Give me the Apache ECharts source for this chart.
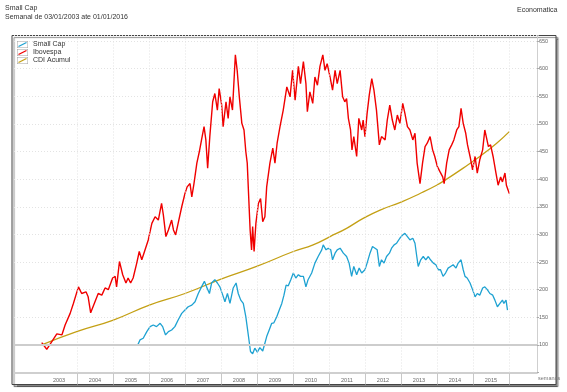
<!DOCTYPE html>
<html><head><meta charset="utf-8">
<script src="https://cdn.jsdelivr.net/npm/echarts@6/dist/echarts.min.js"></script>
<style>html,body{margin:0;padding:0;background:#fff}#c{width:567px;height:392px}</style>
</head><body><div id="c"></div>
<script>
// Ibovespa (red), weekly series sampled, x = decimal year
const ibovX = [2003.02,2003.16,2003.30,2003.44,2003.58,2003.67,2003.81,2003.90,2004.04,2004.13,2004.25,2004.31,2004.38,2004.50,2004.59,2004.69,2004.78,2004.87,2004.99,2005.06,2005.10,2005.18,2005.27,2005.36,2005.42,2005.49,2005.56,2005.66,2005.73,2005.80,2005.86,2005.98,2006.08,2006.17,2006.26,2006.35,2006.40,2006.47,2006.54,2006.63,2006.68,2006.74,2006.81,2006.91,2007.00,2007.06,2007.14,2007.19,2007.25,2007.33,2007.40,2007.46,2007.53,2007.58,2007.63,2007.69,2007.77,2007.83,2007.90,2007.95,2008.02,2008.06,2008.14,2008.20,2008.25,2008.32,2008.40,2008.45,2008.51,2008.58,2008.64,2008.69,2008.73,2008.77,2008.81,2008.85,2008.88,2008.92,2008.97,2009.04,2009.10,2009.16,2009.22,2009.27,2009.36,2009.44,2009.50,2009.56,2009.64,2009.73,2009.83,2009.92,2009.99,2010.06,2010.15,2010.21,2010.29,2010.36,2010.40,2010.47,2010.55,2010.61,2010.68,2010.75,2010.83,2010.89,2010.95,2011.03,2011.10,2011.17,2011.23,2011.31,2011.38,2011.44,2011.49,2011.54,2011.60,2011.64,2011.69,2011.77,2011.83,2011.91,2011.95,2012.00,2012.06,2012.12,2012.19,2012.25,2012.32,2012.40,2012.46,2012.56,2012.62,2012.69,2012.76,2012.83,2012.90,2012.97,2013.05,2013.11,2013.18,2013.25,2013.33,2013.39,2013.45,2013.53,2013.60,2013.67,2013.73,2013.81,2013.88,2013.94,2014.01,2014.08,2014.16,2014.20,2014.27,2014.34,2014.41,2014.47,2014.55,2014.61,2014.67,2014.73,2014.80,2014.85,2014.92,2014.99,2015.06,2015.12,2015.19,2015.27,2015.33,2015.38,2015.43,2015.49,2015.56,2015.64,2015.70,2015.77,2015.82,2015.89,2015.93,2016.01];
const ibovY = [104,92,106,120,118,136,157,175,205,193,196,187,158,178,193,190,203,200,221,224,205,251,227,212,221,212,221,248,269,254,266,290,320,332,326,356,335,296,308,326,308,299,320,350,374,386,392,368,392,429,450,471,495,471,420,477,540,555,525,564,534,495,540,510,549,525,625,597,549,501,489,450,429,368,308,272,314,269,320,356,365,323,332,386,429,456,429,465,495,525,567,549,597,543,604,573,613,573,522,558,537,585,570,604,625,597,609,585,561,597,573,597,549,540,546,510,489,453,477,441,510,489,507,477,519,552,582,561,525,462,477,471,507,534,507,489,516,501,537,519,495,489,471,483,429,392,429,459,465,477,453,441,423,414,404,392,429,453,462,471,489,495,528,501,483,462,441,417,441,411,435,453,489,492,459,462,441,411,389,404,395,411,389,374];
// Small Cap (cyan)
const smallX = [2005.69,2005.75,2005.84,2005.94,2006.03,2006.12,2006.21,2006.31,2006.38,2006.46,2006.54,2006.63,2006.72,2006.81,2006.91,2007.00,2007.09,2007.19,2007.28,2007.37,2007.46,2007.54,2007.60,2007.68,2007.74,2007.83,2007.90,2007.97,2008.05,2008.11,2008.18,2008.25,2008.34,2008.42,2008.48,2008.55,2008.62,2008.69,2008.74,2008.79,2008.82,2008.88,2008.94,2009.01,2009.08,2009.16,2009.22,2009.27,2009.34,2009.41,2009.47,2009.55,2009.62,2009.69,2009.75,2009.81,2009.87,2009.94,2010.01,2010.08,2010.15,2010.21,2010.29,2010.36,2010.42,2010.52,2010.61,2010.70,2010.80,2010.84,2010.92,2010.98,2011.05,2011.10,2011.17,2011.23,2011.31,2011.40,2011.49,2011.56,2011.63,2011.69,2011.77,2011.84,2011.91,2012.00,2012.06,2012.14,2012.21,2012.28,2012.34,2012.40,2012.46,2012.53,2012.60,2012.68,2012.74,2012.81,2012.88,2012.97,2013.05,2013.11,2013.18,2013.25,2013.33,2013.39,2013.44,2013.48,2013.55,2013.62,2013.69,2013.76,2013.82,2013.90,2013.97,2014.04,2014.10,2014.17,2014.24,2014.31,2014.38,2014.45,2014.53,2014.59,2014.67,2014.73,2014.78,2014.84,2014.92,2014.99,2015.06,2015.12,2015.19,2015.27,2015.33,2015.40,2015.47,2015.55,2015.61,2015.68,2015.75,2015.82,2015.86,2015.92,2015.96,2016.01];
const smallY = [100,109,112,124,133,136,133,139,133,118,124,127,133,145,157,163,169,172,178,193,205,215,205,193,212,218,212,205,190,178,193,175,203,212,193,181,175,151,127,103,88,84,94,87,95,89,103,115,127,139,140,151,163,175,190,208,207,218,230,221,227,224,224,205,218,230,248,260,272,281,272,275,272,254,266,272,275,266,260,248,224,242,227,239,230,236,248,266,278,275,272,242,254,248,260,266,275,281,284,293,299,302,296,290,293,284,260,242,254,260,254,260,254,248,245,236,236,224,230,239,242,245,239,248,254,236,224,221,212,200,187,193,190,203,205,200,193,190,181,169,175,181,175,181,163,161];
// CDI Acumul (gold)
const cdiX = [2003.02,2003.99,2005.01,2006.01,2007.00,2008.00,2008.99,2010.01,2010.56,2011.03,2011.49,2011.95,2012.42,2013.02,2013.53,2013.99,2014.27,2014.73,2015.19,2015.66,2016.01];
const cdiY = [100,124,145,172,193,219,242,269,281,296,311,329,344,359,374,389,400,420,441,465,486];
// Axis ticks / labels
const yearBounds = [2004,2005,2006,2007,2008,2009,2010,2011,2012,2013,2014,2015,2016];
const yearLabels = [2003,2004,2005,2006,2007,2008,2009,2010,2011,2012,2013,2014,2015];
const yTicks = [100,150,200,250,300,350,400,450,500,550,600,650];

const COLORS = {small: '#1ea2d2', ibov: '#f00000', cdi: '#c4a015'};
const zip = (xs, ys) => xs.map((x, i) => [x, ys[i]]);
const FONT = 'Liberation Sans';
const legendIcon = c => 'image://data:image/svg+xml;utf8,' + encodeURIComponent(
  '<svg xmlns="http://www.w3.org/2000/svg" width="22" height="14" viewBox="0 0 22 14">' +
  '<rect x="0.5" y="0.5" width="21" height="13" fill="#fff" stroke="#a0a0a0" stroke-width="1"/>' +
  '<line x1="3" y1="11" x2="19" y2="3" stroke="' + c + '" stroke-width="2.6"/></svg>');

const chart = echarts.init(document.getElementById('c'), null, {renderer: 'canvas'});
chart.setOption({
  animation: false,
  backgroundColor: '#fff',
  graphic: [
    {type: 'rect', z: -10, shape: {x: 12, y: 35.5, width: 544, height: 349},
     style: {fill: '#fff', stroke: '#444', lineWidth: 1, shadowColor: 'rgba(0,0,0,0.45)', shadowOffsetX: 2, shadowOffsetY: 2, shadowBlur: 1}},
    {type: 'text', left: 5, top: 5, style: {text: 'Small Cap', font: '7px ' + FONT, fill: '#333'}},
    {type: 'text', left: 5, top: 14, style: {text: 'Semanal de 03/01/2003 ate 01/01/2016', font: '7px ' + FONT, fill: '#333'}},
    {type: 'text', left: 517, top: 7, style: {text: 'Economatica', font: '7px ' + FONT, fill: '#333'}},
    {type: 'text', left: 538, top: 375, style: {text: 'semanas', font: '5.5px ' + FONT, fill: '#777'}}
  ],
  legend: {
    data: [
      {name: 'Small Cap', icon: legendIcon(COLORS.small)},
      {name: 'Ibovespa', icon: legendIcon(COLORS.ibov)},
      {name: 'CDI Acumul', icon: legendIcon(COLORS.cdi)}
    ],
    orient: 'vertical', left: 15, top: 39, itemWidth: 11, itemHeight: 7, itemGap: 1, padding: [2, 2, 2, 2],
    textStyle: {fontSize: 7, lineHeight: 7, fontFamily: FONT, color: '#333'}
  },
  grid: {left: 14, right: 30, top: 35.5, bottom: 19.5},
  xAxis: {
    type: 'value', min: 2002.25, max: 2016.78,
    axisLine: {show: true, lineStyle: {color: '#cfcfcf', width: 2}},
    axisTick: {show: true, customValues: yearBounds, length: 12, lineStyle: {color: '#c8c8c8', width: 1}},
    axisLabel: {show: true, customValues: yearLabels.map(y => y + 0.5), formatter: v => String(Math.floor(v)),
      fontSize: 5.5, fontFamily: FONT, color: '#666', margin: 5},
    splitLine: {show: false}
  },
  yAxis: {
    type: 'value', position: 'right', min: 50, max: 660, interval: 50,
    axisLine: {show: true, lineStyle: {color: '#cfcfcf', width: 1}},
    axisTick: {show: true, length: 2, lineStyle: {color: '#aaa'}},
    axisLabel: {fontSize: 5.5, fontFamily: FONT, color: '#666', margin: 2,
      formatter: v => (yTicks.indexOf(v) >= 0 ? String(v) : '')},
    splitLine: {show: true, lineStyle: {color: '#e3e3e3', type: [1, 2], width: 1}}
  },
  series: [
    {name: 'grid', type: 'line', data: [], silent: true,
     markLine: {silent: true, symbol: 'none', label: {show: false},
       data: yearBounds.map(y => ({xAxis: y, lineStyle: {color: '#e3e3e3', type: [1, 2], width: 1}}))
         .concat([{yAxis: 100, lineStyle: {color: '#cdcdcd', type: 'solid', width: 2}}])}},
    {name: 'CDI Acumul', type: 'line', data: zip(cdiX, cdiY), showSymbol: false, smooth: true,
     lineStyle: {color: COLORS.cdi, width: 1.3}, itemStyle: {color: COLORS.cdi}},
    {name: 'Small Cap', type: 'line', data: zip(smallX, smallY), showSymbol: false,
     lineStyle: {color: COLORS.small, width: 1.3}, itemStyle: {color: COLORS.small}},
    {name: 'Ibovespa', type: 'line', data: zip(ibovX, ibovY), showSymbol: false,
     lineStyle: {color: COLORS.ibov, width: 1.4}, itemStyle: {color: COLORS.ibov}}
  ]
});
</script></body></html>
